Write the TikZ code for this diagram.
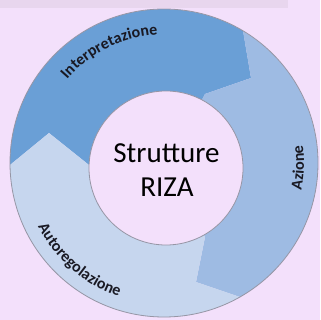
\documentclass[tikz,border=0pt]{standalone}
\usepackage{fontspec}
\setmainfont{Carlito}
\usetikzlibrary{decorations.text}
\definecolor{bgcol}{RGB}{243,224,251}
\definecolor{shadowcol}{RGB}{232,214,238}
\definecolor{interpcol}{RGB}{106,159,214}
\definecolor{azionecol}{RGB}{158,187,227}
\definecolor{autocol}{RGB}{198,214,238}
\definecolor{rimcol}{RGB}{150,150,165}
\definecolor{labcol}{RGB}{25,25,35}
\newcommand\labfont{\fontsize{16}{19}\selectfont\bfseries\color{labcol}}
\tikzset{
  segfill/.style={fill=#1, draw=none},
  ringlabel/.style={decorate, decoration={text along path, text align=center, text={|\labfont|#1}}},
}
\begin{document}
\begin{tikzpicture}[x=1pt,y=1pt]
\useasboundingbox (0,0) rectangle (320,320);
\fill[bgcol] (0,0) rectangle (320,320);
\fill[shadowcol] (0,312) rectangle (288,320);
% centres
\coordinate (O) at (164,157);
\coordinate (C) at (166,152);
% boundaries
\coordinate (b1o) at (10,155);
\coordinate (b1t) at (49,187);
\coordinate (b1i) at (89,155);
\coordinate (b2o) at (243,289);
\coordinate (b2t) at (251,242);
\coordinate (b2i) at (205,226);
\coordinate (b3o) at (240,23);
\coordinate (b3t) at (196,38);
\coordinate (b3i) at (205,83);
% segments
\fill[segfill=interpcol] (b1o) arc[start angle=180.7, end angle=59.1, radius=154] -- (b2t) -- (b2i) -- (C) -- (b1i) -- (b1t) -- cycle;
\fill[segfill=azionecol] (b2o) arc[start angle=59.1, end angle=-60.4, radius=154] -- (b3t) -- (b3i) -- (C) -- (b2i) -- (b2t) -- cycle;
\fill[segfill=autocol] (b3o) arc[start angle=-60.4, end angle=-179.3, radius=154] -- (b1t) -- (b1i) -- (C) -- (b3i) -- (b3t) -- cycle;
\draw[rimcol, line width=0.8pt] (O) circle[radius=154];
% centre
\node[circle, minimum size=154pt, inner sep=0pt, fill=bgcol, draw=rimcol, line width=0.8pt] (hub) at (C) {};
\node[anchor=base, font=\fontsize{29}{34}\selectfont] (t1) at (166.5,157) {Strutture};
\node[anchor=base, font=\fontsize{29}{34}\selectfont] (t2) at (167,123) {RIZA};
% labels
\path[ringlabel=Interpretazione] (O) ++(156:128) arc[start angle=156, end angle=76, radius=128];
\path[ringlabel=Azione] (O) ++(-40:140) arc[start angle=-40, end angle=36, radius=140];
\path[ringlabel=Autoregolazione] (O) ++(188:141) arc[start angle=188, end angle=270, radius=141];
\end{tikzpicture}
\end{document}
